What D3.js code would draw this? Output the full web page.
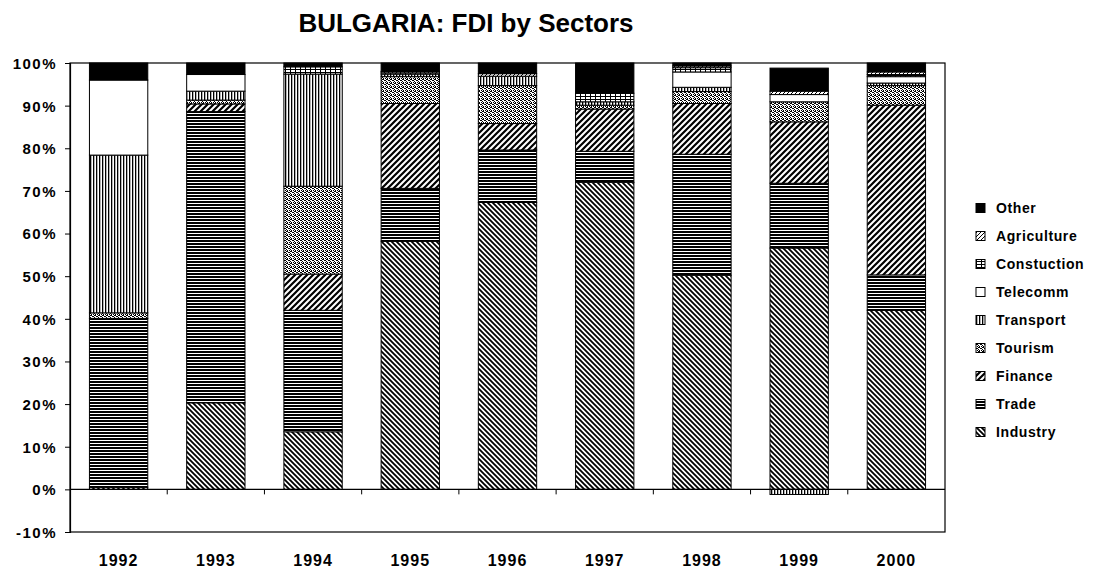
<!DOCTYPE html>
<html>
<head>
<meta charset="utf-8">
<script src="https://cdn.jsdelivr.net/npm/d3@7"></script>
<style>
  body { margin: 0; background: #fff; }
  text { font-family: "Liberation Sans", Arial, sans-serif; font-weight: bold; fill: #000; }
</style>
</head>
<body>
<svg id="chart" width="1095" height="569"></svg>
<script>
// values, percent of each year's FDI
const years = ['1992', '1993', '1994', '1995', '1996', '1997', '1998', '1999', '2000'];
const sectors = ['Industry', 'Trade', 'Finance', 'Tourism', 'Transport', 'Telecomm', 'Constuction', 'Agriculture', 'Other'];
const industry = [0.5, 20.3, 13.5, 58.2, 67.3, 72.0, 50.2, 56.6, 42.0];
const trade = [39.6, 68.3, 28.5, 12.4, 12.3, 7.3, 28.4, 15.2, 8.3];
const finance = [0, 1.8, 8.5, 19.9, 6.2, 9.9, 11.9, 14.4, 39.8];
const tourism = [1.3, 0.9, 20.6, 6.3, 8.9, 0.9, 2.8, 4.7, 4.6];
const transport = [37.0, 2.1, 26.3, 0.6, 2.2, 0.8, 1.0, -1.2, 0.6];
const telecomm = [17.6, 3.9, 0, 0, 0, 0, 3.6, 1.7, 1.5];
const construction = [0, 0, 1.7, 0.3, 0, 2.0, 1.0, 0, 0.5];
const agriculture = [0, 0, 0, 0.3, 0.6, 0, 0.4, 0.8, 0.6];
const other = [4.0, 2.7, 0.9, 2.0, 2.5, 7.1, 0.7, 5.4, 2.1];
const yTicks = [-10, 0, 10, 20, 30, 40, 50, 60, 70, 80, 90, 100];

const seriesValues = [industry, trade, finance, tourism, transport, telecomm, construction, agriculture, other];
const rows = years.map((year, i) => {
  const row = { year };
  sectors.forEach((s, k) => { row[s] = seriesValues[k][i]; });
  return row;
});

const W = 1095, H = 569;
const plot = { left: 70, right: 945, top: 63, bottom: 532 };

const svg = d3.select('#chart');
svg.append('rect').attr('width', W).attr('height', H).attr('fill', '#fff');

/* PATTERNS */
const defs = svg.append('defs');
const pat = (id, w, h) => defs.append('pattern').attr('id', id)
  .attr('patternUnits', 'userSpaceOnUse').attr('width', w).attr('height', h);
const dots = (p, pts) => pts.forEach(([px, py]) =>
  p.append('rect').attr('x', px).attr('y', py).attr('width', 1).attr('height', 1).attr('fill', '#000'));

// Industry: dense back-diagonal
const pInd = pat('p-industry', 5, 5);
pInd.append('rect').attr('width', 5).attr('height', 5).attr('fill', '#fff');
pInd.append('path').attr('d', 'M-1,-1L6,6M-1,4L1,6M4,-1L6,1').attr('stroke', '#000').attr('stroke-width', 1.8);
// Trade: horizontal lines
const pTrade = pat('p-trade', 4, 3);
pTrade.append('rect').attr('width', 4).attr('height', 3).attr('fill', '#fff');
pTrade.append('rect').attr('width', 4).attr('height', 2).attr('fill', '#000');
// Finance: wide forward-diagonal
const pFin = pat('p-finance', 6, 6);
pFin.append('rect').attr('width', 6).attr('height', 6).attr('fill', '#fff');
pFin.append('path').attr('d', 'M-1,7L7,-1M-1,1L1,-1M5,7L7,5').attr('stroke', '#000').attr('stroke-width', 2.2);
// Tourism: speckled dots
const pTour = pat('p-tourism', 4, 4);
pTour.append('rect').attr('width', 4).attr('height', 4).attr('fill', '#fff');
dots(pTour, [[0, 0], [1, 0], [2, 1], [1, 2], [3, 2], [3, 3], [2, 3]]);
// Transport: vertical lines
const pTr = pat('p-transport', 3, 3);
pTr.append('rect').attr('width', 3).attr('height', 3).attr('fill', '#fff');
pTr.append('rect').attr('width', 1.3).attr('height', 3).attr('fill', '#000');
// Construction: grid
const pCon = pat('p-construction', 5, 3);
pCon.append('rect').attr('width', 5).attr('height', 3).attr('fill', '#fff');
pCon.append('rect').attr('width', 5).attr('height', 1).attr('fill', '#000');
pCon.append('rect').attr('width', 1).attr('height', 3).attr('fill', '#000');
// Agriculture: light dots
const pAgr = pat('p-agriculture', 4, 4);
pAgr.append('rect').attr('width', 4).attr('height', 4).attr('fill', '#fff');
dots(pAgr, [[0, 0], [2, 2], [3, 1], [1, 3]]);

const fills = {
  Industry: 'url(#p-industry)', Trade: 'url(#p-trade)', Finance: 'url(#p-finance)',
  Tourism: 'url(#p-tourism)', Transport: 'url(#p-transport)', Telecomm: '#fff',
  Constuction: 'url(#p-construction)', Agriculture: 'url(#p-agriculture)', Other: '#000',
};

/* SCALES */
const x = d3.scaleBand().domain(years).range([plot.left, plot.right]).paddingInner(0.4).paddingOuter(0.2);
const y = d3.scaleLinear().domain([-10, 100]).range([plot.bottom, plot.top]);

// plot frame
svg.append('rect').attr('x', plot.left).attr('y', plot.top)
  .attr('width', plot.right - plot.left).attr('height', plot.bottom - plot.top)
  .attr('fill', 'none').attr('stroke', '#000').attr('stroke-width', 1.2);

/* BARS */
const stack = d3.stack().keys(sectors).offset(d3.stackOffsetDiverging);
const layers = stack(rows);
svg.append('g').selectAll('g.layer').data(layers).join('g').attr('class', 'layer')
  .attr('fill', d => fills[d.key])
  .selectAll('rect').data(d => d.filter(s => s[1] - s[0] !== 0)).join('rect')
  .attr('x', d => x(d.data.year)).attr('width', x.bandwidth())
  .attr('y', d => y(Math.max(d[0], d[1])))
  .attr('height', d => Math.abs(y(d[0]) - y(d[1])))
  .attr('stroke', '#000').attr('stroke-width', 1);

/* AXES */
const yAxis = svg.append('g').attr('transform', `translate(${plot.left},0)`)
  .call(d3.axisLeft(y).tickValues(yTicks).tickSize(5).tickFormat(d => d + '%'));
yAxis.select('.domain').attr('stroke-width', 1.2);
yAxis.selectAll('text').attr('x', -13).style('font-size', '15px').style('letter-spacing', '1.5px')
  .attr('dy', '0.36em');

// zero line with ticks between categories
svg.append('line').attr('x1', plot.left).attr('x2', plot.right)
  .attr('y1', y(0)).attr('y2', y(0)).attr('stroke', '#000').attr('stroke-width', 1.2);
const step = x.step();
svg.append('g').selectAll('line').data(years.slice(1)).join('line')
  .attr('x1', d => x(d) - step * 0.2).attr('x2', d => x(d) - step * 0.2)
  .attr('y1', y(0)).attr('y2', y(0) + 5).attr('stroke', '#000');

svg.append('g').selectAll('text').data(years).join('text')
  .attr('x', d => x(d) + x.bandwidth() / 2).attr('y', 566)
  .attr('text-anchor', 'middle').style('font-size', '16px').style('letter-spacing', '1px')
  .text(d => d);

/* TITLE */
svg.append('text').attr('x', 466).attr('y', 32).attr('text-anchor', 'middle')
  .style('font-size', '26px').text('BULGARIA: FDI by Sectors');

/* LEGEND */
const legendTop = 208, legendStep = 28;
const legend = svg.append('g').selectAll('g').data(sectors.slice().reverse()).join('g')
  .attr('transform', (d, i) => `translate(976,${legendTop + i * legendStep})`);
legend.append('rect').attr('x', 0).attr('y', -4.5).attr('width', 9).attr('height', 9)
  .attr('fill', d => fills[d]).attr('stroke', '#000').attr('stroke-width', 1);
legend.append('text').attr('x', 20).attr('dy', '0.36em')
  .style('font-size', '14px').style('letter-spacing', '0.6px').text(d => d);
</script>
</body>
</html>
